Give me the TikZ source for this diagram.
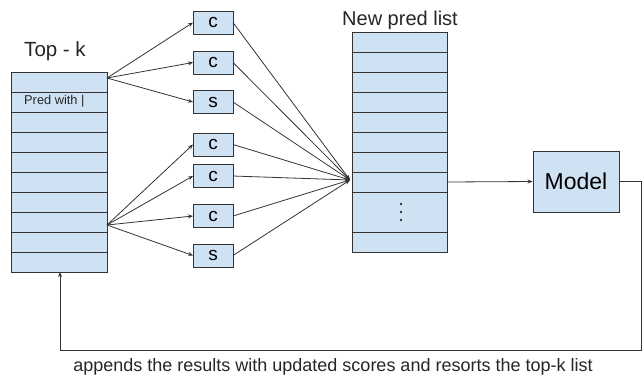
\documentclass[tikz,border=0pt]{standalone}
\usepackage{fontspec}
\setmainfont{Liberation Sans}
\usetikzlibrary{arrows.meta}
\definecolor{cellblue}{HTML}{CFE2F3}
\definecolor{edge}{HTML}{333333}
\tikzset{
  cell/.style={draw=edge, fill=cellblue, line width=0.9pt, minimum width=96pt,
    minimum height=20pt, inner sep=0pt, outer sep=0pt},
  cand/.style={draw=edge, fill=cellblue, line width=0.9pt, minimum width=40pt,
    minimum height=23pt, inner sep=0pt, outer sep=0pt, font=\fontsize{19}{19}\selectfont},
  link/.style={draw=edge, line width=0.8pt, -{Stealth[length=5pt,width=4pt]}},
  plain/.style={draw=edge, line width=0.8pt},
  label/.style={inner sep=0pt, text=black!85},
}
\begin{document}
\begin{tikzpicture}[x=1pt, y=-1pt]
\useasboundingbox (0,0) rectangle (642,376);

% current top-k list
\foreach \i in {1,...,10}
  \node[cell] (t\i) at (59,{62+20*\i}) {};
\node[label, font=\fontsize{12.8}{12.8}\selectfont, anchor=west] (predtxt) at (24,101.5) {Pred with |};
\node[label, font=\fontsize{20.5}{20.5}\selectfont] (topk) at (55,51) {Top - k};

% expansion sources
\coordinate (s1) at (107,78);
\coordinate (s2) at (107,225);

% candidate boxes
\node[cand] (c1) at (213,22.5) {c};
\node[cand] (c2) at (213,62.5) {c};
\node[cand] (c3) at (213,102) {s};
\node[cand] (c4) at (213,144.5) {c};
\node[cand] (c5) at (213,176) {c};
\node[cand] (c6) at (213,216) {c};
\node[cand] (c7) at (213,255.5) {s};

\foreach \k in {1,2,3}
  \draw[link] (s1) -- (c\k.west);
\foreach \k in {4,5,6,7}
  \draw[link] (s2) -- (c\k.west);

% new prediction list
\foreach \i in {1,...,8}
  \node[cell, minimum width=95pt] (n\i) at (399.5,{22+20*\i}) {};
\node[cell, minimum width=95pt, minimum height=40pt] (n9) at (399.5,212) {};
\node[cell, minimum width=95pt] (n10) at (399.5,242) {};
\foreach \d in {-8,0,8}
  \fill[edge] (401,212+\d) circle (1.3pt);
\node[label, font=\fontsize{20}{20}\selectfont] (newlbl) at (400,20) {New pred list};

\coordinate (hub) at (350,180);
\foreach \k in {1,...,7}
  \draw[link] (c\k.east) -- (hub);

% model
\node[draw=edge, fill=cellblue, line width=0.9pt, minimum width=86pt, minimum height=61pt,
  inner sep=0pt, font=\fontsize{23}{23}\selectfont] (model) at (576,181.5) {Model};
\draw[link] (n8.east) -- (model.west);

% feedback loop
\coordinate (rt) at (641,181.5);
\coordinate (rb) at (641,350);
\coordinate (lb) at (60,350);
\draw[plain] (model.east) -- (rt) -- (rb) -- (lb);
\draw[link] (lb) -- (lb |- t10.south);
\node[label, font=\fontsize{18}{18}\selectfont] (caption) at (333,366.5)
  {appends the results with updated scores and resorts the top-k list};
\end{tikzpicture}
\end{document}
